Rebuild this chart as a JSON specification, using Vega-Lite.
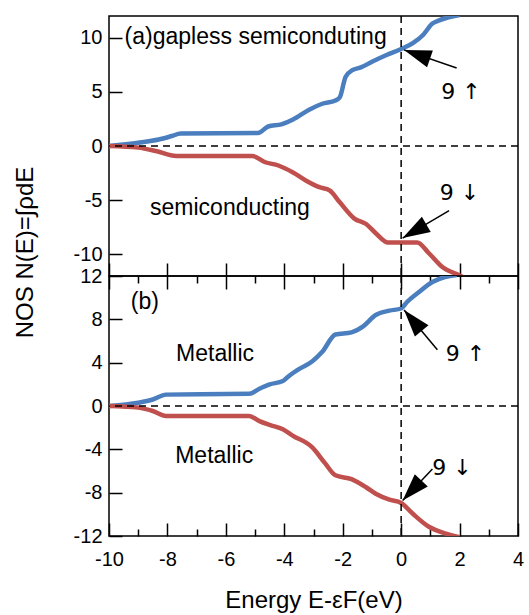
{
  "$schema": "https://vega.github.io/schema/vega-lite/v6.json",
  "background": "white",
  "padding": {"left": 12, "top": 14, "right": 2, "bottom": 5},
  "spacing": 0,
  "bounds": "flush",
  "config": {
    "font": "Liberation Sans",
    "view": {"stroke": "black", "strokeWidth": 1.5},
    "axis": {
      "domain": false, "grid": false,
      "labelFont": "Liberation Sans", "labelFontSize": 20, "labelColor": "black",
      "labelFlush": false, "labelOverlap": false,
      "tickColor": "black", "tickWidth": 1.5,
      "titleFont": "Liberation Sans", "titleFontSize": 24, "titleFontWeight": "normal", "titleColor": "black"
    },
    "text": {"font": "Liberation Sans", "fontSize": 23, "color": "black"}
  },
  "datasets": {
    "nos": [
      {"panel": "a", "spin": "up", "E": -10, "N": 0},
      {"panel": "a", "spin": "up", "E": -9, "N": 0.3},
      {"panel": "a", "spin": "up", "E": -8.3, "N": 0.6},
      {"panel": "a", "spin": "up", "E": -7.85, "N": 0.92},
      {"panel": "a", "spin": "up", "E": -7.55, "N": 1.15},
      {"panel": "a", "spin": "up", "E": -4.9, "N": 1.2},
      {"panel": "a", "spin": "up", "E": -4.55, "N": 1.8},
      {"panel": "a", "spin": "up", "E": -4.1, "N": 2.0},
      {"panel": "a", "spin": "up", "E": -3.7, "N": 2.45},
      {"panel": "a", "spin": "up", "E": -3.15, "N": 3.35},
      {"panel": "a", "spin": "up", "E": -2.7, "N": 3.9},
      {"panel": "a", "spin": "up", "E": -2.25, "N": 4.2},
      {"panel": "a", "spin": "up", "E": -2.1, "N": 4.5},
      {"panel": "a", "spin": "up", "E": -1.9, "N": 6.4},
      {"panel": "a", "spin": "up", "E": -1.67, "N": 7.0},
      {"panel": "a", "spin": "up", "E": -1.38, "N": 7.25},
      {"panel": "a", "spin": "up", "E": -0.98, "N": 7.8},
      {"panel": "a", "spin": "up", "E": -0.5, "N": 8.4},
      {"panel": "a", "spin": "up", "E": 0, "N": 8.95},
      {"panel": "a", "spin": "up", "E": 0.4, "N": 9.5},
      {"panel": "a", "spin": "up", "E": 0.75, "N": 10.25},
      {"panel": "a", "spin": "up", "E": 1.07, "N": 11.3},
      {"panel": "a", "spin": "up", "E": 1.3, "N": 11.6},
      {"panel": "a", "spin": "up", "E": 2.0, "N": 12.1},
      {"panel": "a", "spin": "down", "E": -10, "N": 0},
      {"panel": "a", "spin": "down", "E": -9, "N": -0.15},
      {"panel": "a", "spin": "down", "E": -8.4, "N": -0.46},
      {"panel": "a", "spin": "down", "E": -7.7, "N": -0.92},
      {"panel": "a", "spin": "down", "E": -5.1, "N": -0.92},
      {"panel": "a", "spin": "down", "E": -4.65, "N": -1.5},
      {"panel": "a", "spin": "down", "E": -4.2, "N": -1.8},
      {"panel": "a", "spin": "down", "E": -3.7, "N": -2.45},
      {"panel": "a", "spin": "down", "E": -3.25, "N": -3.2},
      {"panel": "a", "spin": "down", "E": -2.8, "N": -3.8},
      {"panel": "a", "spin": "down", "E": -2.45, "N": -4.1},
      {"panel": "a", "spin": "down", "E": -2.1, "N": -5.2},
      {"panel": "a", "spin": "down", "E": -1.6, "N": -6.7},
      {"panel": "a", "spin": "down", "E": -1.2, "N": -7.2},
      {"panel": "a", "spin": "down", "E": -0.85, "N": -8.1},
      {"panel": "a", "spin": "down", "E": -0.45, "N": -8.9},
      {"panel": "a", "spin": "down", "E": 0.55, "N": -8.9},
      {"panel": "a", "spin": "down", "E": 0.95, "N": -9.9},
      {"panel": "a", "spin": "down", "E": 1.4, "N": -11.15},
      {"panel": "a", "spin": "down", "E": 2.0, "N": -11.95},
      {"panel": "a", "spin": "down", "E": 2.2, "N": -12.2},
      {"panel": "b", "spin": "up", "E": -10, "N": 0},
      {"panel": "b", "spin": "up", "E": -9, "N": 0.3},
      {"panel": "b", "spin": "up", "E": -8.5, "N": 0.6},
      {"panel": "b", "spin": "up", "E": -8.05, "N": 1.05},
      {"panel": "b", "spin": "up", "E": -5.2, "N": 1.12},
      {"panel": "b", "spin": "up", "E": -4.85, "N": 1.6},
      {"panel": "b", "spin": "up", "E": -4.5, "N": 2.0},
      {"panel": "b", "spin": "up", "E": -4.05, "N": 2.3},
      {"panel": "b", "spin": "up", "E": -3.85, "N": 2.75},
      {"panel": "b", "spin": "up", "E": -3.5, "N": 3.4},
      {"panel": "b", "spin": "up", "E": -3.05, "N": 4.1},
      {"panel": "b", "spin": "up", "E": -2.7, "N": 5.0},
      {"panel": "b", "spin": "up", "E": -2.25, "N": 6.6},
      {"panel": "b", "spin": "up", "E": -1.7, "N": 6.8},
      {"panel": "b", "spin": "up", "E": -1.3, "N": 7.35},
      {"panel": "b", "spin": "up", "E": -0.87, "N": 8.4},
      {"panel": "b", "spin": "up", "E": -0.4, "N": 8.8},
      {"panel": "b", "spin": "up", "E": 0, "N": 9.0},
      {"panel": "b", "spin": "up", "E": 0.2, "N": 9.6},
      {"panel": "b", "spin": "up", "E": 0.6, "N": 10.5},
      {"panel": "b", "spin": "up", "E": 1.07, "N": 11.45},
      {"panel": "b", "spin": "up", "E": 1.5, "N": 11.9},
      {"panel": "b", "spin": "up", "E": 1.9, "N": 12.1},
      {"panel": "b", "spin": "down", "E": -10, "N": 0},
      {"panel": "b", "spin": "down", "E": -9, "N": -0.15},
      {"panel": "b", "spin": "down", "E": -8.5, "N": -0.46},
      {"panel": "b", "spin": "down", "E": -8.05, "N": -0.92},
      {"panel": "b", "spin": "down", "E": -5.2, "N": -0.92},
      {"panel": "b", "spin": "down", "E": -4.85, "N": -1.4},
      {"panel": "b", "spin": "down", "E": -4.5, "N": -1.75},
      {"panel": "b", "spin": "down", "E": -4.05, "N": -2.15},
      {"panel": "b", "spin": "down", "E": -3.7, "N": -2.75},
      {"panel": "b", "spin": "down", "E": -3.05, "N": -3.8},
      {"panel": "b", "spin": "down", "E": -2.6, "N": -5.3},
      {"panel": "b", "spin": "down", "E": -2.25, "N": -6.4},
      {"panel": "b", "spin": "down", "E": -1.7, "N": -6.75},
      {"panel": "b", "spin": "down", "E": -1.2, "N": -7.5},
      {"panel": "b", "spin": "down", "E": -0.87, "N": -8.1},
      {"panel": "b", "spin": "down", "E": -0.4, "N": -8.65},
      {"panel": "b", "spin": "down", "E": 0, "N": -8.95},
      {"panel": "b", "spin": "down", "E": 0.4, "N": -9.95},
      {"panel": "b", "spin": "down", "E": 0.95, "N": -11.15},
      {"panel": "b", "spin": "down", "E": 1.5, "N": -11.75},
      {"panel": "b", "spin": "down", "E": 2.0, "N": -12.1}
    ],
    "labels": [
      {"panel": "a", "kind": "word", "E": -4.98, "N": 10.1, "text": "(a)gapless semiconduting"},
      {"panel": "a", "kind": "count", "E": 2.05, "N": 5.0, "text": "9 ↑"},
      {"panel": "a", "kind": "word", "E": -5.86, "N": -5.7, "text": "semiconducting"},
      {"panel": "a", "kind": "count", "E": 2.0, "N": -4.3, "text": "9 ↓"},
      {"panel": "b", "kind": "word", "E": -8.77, "N": 9.6, "text": "(b)"},
      {"panel": "b", "kind": "word", "E": -6.37, "N": 4.8, "text": "Metallic"},
      {"panel": "b", "kind": "count", "E": 2.2, "N": 4.8, "text": "9 ↑"},
      {"panel": "b", "kind": "word", "E": -6.4, "N": -4.6, "text": "Metallic"},
      {"panel": "b", "kind": "count", "E": 1.74, "N": -5.7, "text": "9 ↓"}
    ],
    "arrows": [
      {"panel": "a", "spin": "up", "E": 1.9, "N": 7.2, "E2": 0.1, "N2": 8.87},
      {"panel": "a", "spin": "down", "E": 1.64, "N": -5.96, "E2": 0.05, "N2": -8.5},
      {"panel": "b", "spin": "up", "E": 1.24, "N": 5.2, "E2": 0.1, "N2": 8.87},
      {"panel": "b", "spin": "down", "E": 1.07, "N": -5.81, "E2": 0.05, "N2": -8.72}
    ],
    "one": [{}]
  },
  "vconcat": [
    {
      "width": 409, "height": 260,
      "layer": [
        {
          "data": {"name": "nos"},
          "transform": [{"filter": "datum.panel === 'a'"}],
          "mark": {"type": "line", "strokeWidth": 4.5, "clip": true, "interpolate": "monotone"},
          "encoding": {
            "x": {"field": "E", "type": "quantitative",
                  "scale": {"domain": [-10, 4], "nice": false, "zero": false},
                  "axis": {"orient": "bottom", "title": null, "labels": false, "labelOverlap": false,
                           "values": [-10, -9, -8, -7, -6, -5, -4, -3, -2, -1, 0, 1, 2, 3, 4],
                           "tickSize": {"condition": {"test": "datum.value % 2 === 0", "value": -13}, "value": -7}}},
            "y": {"field": "N", "type": "quantitative",
                  "scale": {"domain": [-12, 12], "nice": false, "zero": false},
                  "axis": {"title": "NOS N(E)=∫ρdE", "titleX": -84, "titleY": 236, "titleAngle": -90,
                           "titleAlign": "center", "titleBaseline": "middle",
                           "values": [-10, -7.5, -5, -2.5, 0, 2.5, 5, 7.5, 10],
                           "labelExpr": "indexof([-10, -5, 0, 5, 10], datum.value) >= 0 ? '' + datum.value : ''",
                           "labelOverlap": false,
                           "labelPadding": 20,
                           "tickSize": {"condition": {"test": "indexof([-10, -5, 0, 5, 10], datum.value) >= 0", "value": -13}, "value": -7}}},
            "color": {"field": "spin", "type": "nominal", "legend": null,
                      "scale": {"domain": ["up", "down"], "range": ["#4a7ebf", "#c0504d"]}},
            "detail": {"field": "spin"},
            "order": {"field": "E", "type": "quantitative"}
          }
        },
        {
          "data": {"name": "one"},
          "mark": {"type": "rule", "strokeDash": [7, 5], "strokeWidth": 1.5, "color": "black"},
          "encoding": {"x": {"datum": 0, "type": "quantitative"}}
        },
        {
          "data": {"name": "one"},
          "mark": {"type": "rule", "strokeDash": [7, 5], "strokeWidth": 1.5, "color": "black"},
          "encoding": {"y": {"datum": 0, "type": "quantitative"}}
        },
        {
          "data": {"name": "labels"},
          "transform": [{"filter": "datum.panel === 'a' && datum.kind === 'word'"}],
          "mark": {"type": "text", "align": "center", "baseline": "middle"},
          "encoding": {
            "x": {"field": "E", "type": "quantitative"},
            "y": {"field": "N", "type": "quantitative"},
            "text": {"field": "text"}
          }
        },
        {
          "data": {"name": "labels"},
          "transform": [{"filter": "datum.panel === 'a' && datum.kind === 'count'"}],
          "mark": {"type": "text", "align": "center", "baseline": "middle", "font": "DejaVu Sans", "fontSize": 22},
          "encoding": {
            "x": {"field": "E", "type": "quantitative"},
            "y": {"field": "N", "type": "quantitative"},
            "text": {"field": "text"}
          }
        },
        {
          "data": {"name": "arrows"},
          "transform": [{"filter": "datum.panel === 'a'"}],
          "mark": {"type": "rule", "strokeWidth": 1.5, "color": "black"},
          "encoding": {
            "x": {"field": "E", "type": "quantitative"},
            "y": {"field": "N", "type": "quantitative"},
            "x2": {"field": "E2"},
            "y2": {"field": "N2"}
          }
        },
        {
          "data": {"name": "arrows"},
          "transform": [{"filter": "datum.panel === 'a' && datum.spin === 'up'"}],
          "mark": {"type": "point", "shape": "M0,0L-0.65,2L0.65,2Z", "filled": true, "color": "black", "opacity": 1, "size": 750, "angle": 289},
          "encoding": {
            "x": {"field": "E2", "type": "quantitative"},
            "y": {"field": "N2", "type": "quantitative"}
          }
        },
        {
          "data": {"name": "arrows"},
          "transform": [{"filter": "datum.panel === 'a' && datum.spin === 'down'"}],
          "mark": {"type": "point", "shape": "M0,0L-0.65,2L0.65,2Z", "filled": true, "color": "black", "opacity": 1, "size": 750, "angle": 240},
          "encoding": {
            "x": {"field": "E2", "type": "quantitative"},
            "y": {"field": "N2", "type": "quantitative"}
          }
        }
      ]
    },
    {
      "width": 409, "height": 260,
      "resolve": {"axis": {"x": "independent"}},
      "layer": [
        {
          "data": {"name": "nos"},
          "transform": [{"filter": "datum.panel === 'b'"}],
          "mark": {"type": "line", "strokeWidth": 4.5, "clip": true, "interpolate": "monotone"},
          "encoding": {
            "x": {"field": "E", "type": "quantitative",
                  "scale": {"domain": [-10, 4], "nice": false, "zero": false},
                  "axis": {"orient": "bottom", "title": "Energy E-εF(eV)", "titlePadding": 13,
                           "values": [-10, -9, -8, -7, -6, -5, -4, -3, -2, -1, 0, 1, 2, 3, 4],
                           "labelExpr": "datum.value % 2 === 0 ? '' + datum.value : ''",
                           "labelOverlap": false,
                           "labelPadding": 26,
                           "tickSize": {"condition": {"test": "datum.value % 2 === 0", "value": -13}, "value": -7}}},
            "y": {"field": "N", "type": "quantitative",
                  "scale": {"domain": [-12, 12], "nice": false, "zero": false},
                  "axis": {"title": null,
                           "values": [-12, -10, -8, -6, -4, -2, 0, 2, 4, 6, 8, 10, 12],
                           "labelExpr": "datum.value % 4 === 0 ? '' + datum.value : ''",
                           "labelOverlap": false,
                           "labelPadding": 20,
                           "tickSize": {"condition": {"test": "datum.value % 4 === 0", "value": -13}, "value": -7}}},
            "color": {"field": "spin", "type": "nominal", "legend": null,
                      "scale": {"domain": ["up", "down"], "range": ["#4a7ebf", "#c0504d"]}},
            "detail": {"field": "spin"},
            "order": {"field": "E", "type": "quantitative"}
          }
        },
        {
          "data": {"name": "one"},
          "mark": {"type": "rule", "strokeDash": [7, 5], "strokeWidth": 1.5, "color": "black"},
          "encoding": {"x": {"datum": 0, "type": "quantitative",
                             "axis": {"orient": "top", "title": null, "labels": false,
                                      "values": [-10, -9, -8, -7, -6, -5, -4, -3, -2, -1, 0, 1, 2, 3, 4],
                                      "tickSize": {"condition": {"test": "datum.value % 2 === 0", "value": -13}, "value": -7}}}}
        },
        {
          "data": {"name": "one"},
          "mark": {"type": "rule", "strokeDash": [7, 5], "strokeWidth": 1.5, "color": "black"},
          "encoding": {"y": {"datum": 0, "type": "quantitative"}}
        },
        {
          "data": {"name": "labels"},
          "transform": [{"filter": "datum.panel === 'b' && datum.kind === 'word'"}],
          "mark": {"type": "text", "align": "center", "baseline": "middle"},
          "encoding": {
            "x": {"field": "E", "type": "quantitative", "axis": null},
            "y": {"field": "N", "type": "quantitative"},
            "text": {"field": "text"}
          }
        },
        {
          "data": {"name": "labels"},
          "transform": [{"filter": "datum.panel === 'b' && datum.kind === 'count'"}],
          "mark": {"type": "text", "align": "center", "baseline": "middle", "font": "DejaVu Sans", "fontSize": 22},
          "encoding": {
            "x": {"field": "E", "type": "quantitative", "axis": null},
            "y": {"field": "N", "type": "quantitative"},
            "text": {"field": "text"}
          }
        },
        {
          "data": {"name": "arrows"},
          "transform": [{"filter": "datum.panel === 'b'"}],
          "mark": {"type": "rule", "strokeWidth": 1.5, "color": "black"},
          "encoding": {
            "x": {"field": "E", "type": "quantitative", "axis": null},
            "y": {"field": "N", "type": "quantitative"},
            "x2": {"field": "E2"},
            "y2": {"field": "N2"}
          }
        },
        {
          "data": {"name": "arrows"},
          "transform": [{"filter": "datum.panel === 'b' && datum.spin === 'up'"}],
          "mark": {"type": "point", "shape": "M0,0L-0.65,2L0.65,2Z", "filled": true, "color": "black", "opacity": 1, "size": 750, "angle": 320},
          "encoding": {
            "x": {"field": "E2", "type": "quantitative", "axis": null},
            "y": {"field": "N2", "type": "quantitative"}
          }
        },
        {
          "data": {"name": "arrows"},
          "transform": [{"filter": "datum.panel === 'b' && datum.spin === 'down'"}],
          "mark": {"type": "point", "shape": "M0,0L-0.65,2L0.65,2Z", "filled": true, "color": "black", "opacity": 1, "size": 750, "angle": 223},
          "encoding": {
            "x": {"field": "E2", "type": "quantitative", "axis": null},
            "y": {"field": "N2", "type": "quantitative"}
          }
        }
      ]
    }
  ]
}
